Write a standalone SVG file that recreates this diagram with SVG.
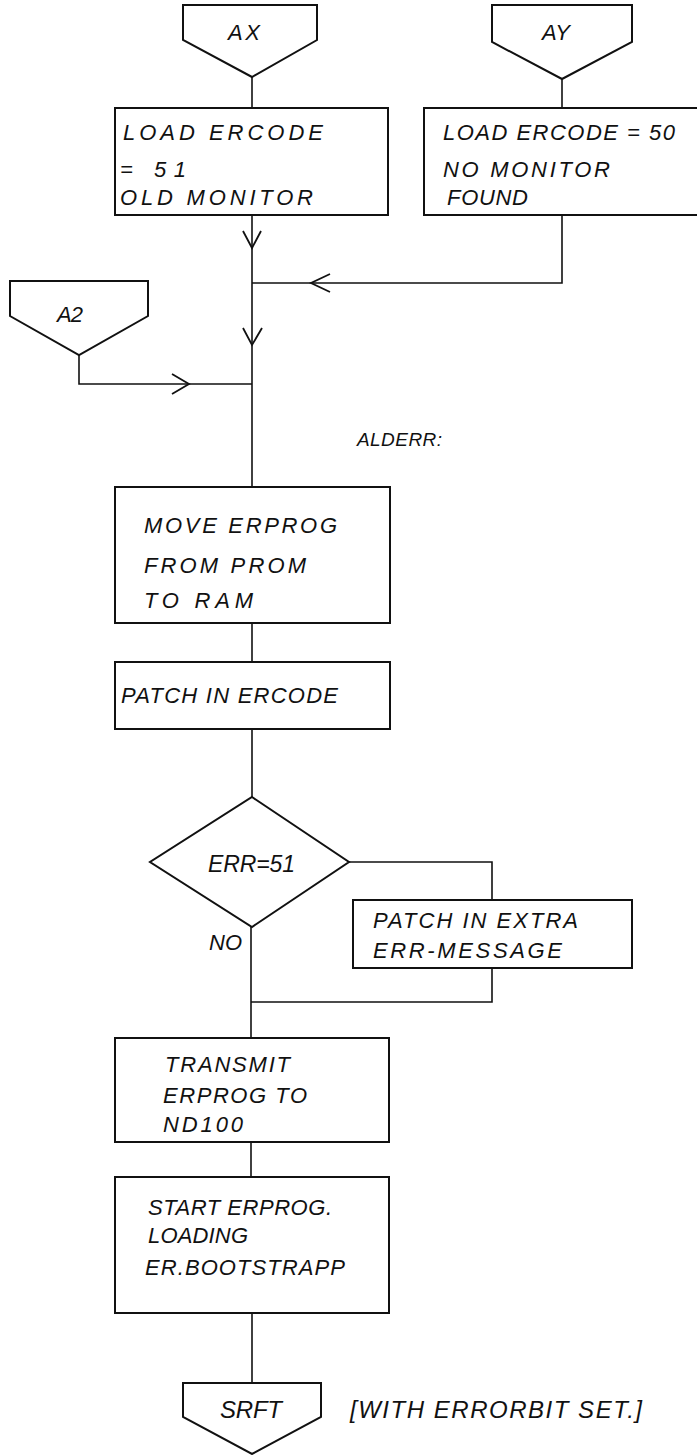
<svg xmlns="http://www.w3.org/2000/svg" width="697" height="1455" viewBox="0 0 697 1455">
<style>
.b{fill:#fff;stroke:#111;stroke-width:2}
.c{fill:none;stroke:#111;stroke-width:1.6}
.a{fill:none;stroke:#111;stroke-width:1.8;stroke-linejoin:miter}
text{font-family:"Liberation Sans","DejaVu Sans",sans-serif;font-style:italic;font-size:22px;fill:#111}
</style>
<rect width="697" height="1455" fill="#fff"/>
<g id="connectors">
<path class="c" d="M252 77V108"/>
<path class="c" d="M562 79V108"/>
<path class="c" d="M252 215V487"/>
<path class="c" d="M562 215V283H252"/>
<path class="c" d="M79 355V384H252"/>
<path class="a" d="M243 231L252 248L261 231"/>
<path class="a" d="M243 328L252 345L262 328"/>
<path class="a" d="M330 274L311 283L330 292"/>
<path class="a" d="M172 374L189 384L172 394"/>
<path class="c" d="M252 623V662"/>
<path class="c" d="M252 729V797"/>
<path class="c" d="M349 862H492V900"/>
<path class="c" d="M492 968V1002H251"/>
<path class="c" d="M251 927V1038"/>
<path class="c" d="M251 1142V1177"/>
<path class="c" d="M252 1313V1383"/>
</g>
<g id="AX"><path class="b" d="M183 5H317V40L252 77L183 40Z"/><text x="228" y="40" textLength="32" lengthAdjust="spacing">AX</text></g>
<g id="AY"><path class="b" d="M492 5H632V42L562 79L492 42Z"/><text x="542" y="40" textLength="28" lengthAdjust="spacing">AY</text></g>
<g id="ercode51"><rect class="b" x="115" y="108" width="273" height="107"/>
<text x="123" y="140" textLength="200" lengthAdjust="spacing">LOAD ERCODE</text>
<text x="120" y="177" textLength="66" lengthAdjust="spacing">= 51</text>
<text x="120" y="205" textLength="193" lengthAdjust="spacing">OLD MONITOR</text></g>
<g id="ercode50"><rect class="b" x="424" y="108" width="276" height="107"/>
<text x="443" y="140" textLength="232" lengthAdjust="spacing">LOAD ERCODE = 50</text>
<text x="443" y="177" textLength="167" lengthAdjust="spacing">NO MONITOR</text>
<text x="447" y="205" textLength="81" lengthAdjust="spacing">FOUND</text></g>
<g id="A2"><path class="b" d="M10 281H148V316L79 355L10 316Z"/><text x="57" y="322" textLength="26" lengthAdjust="spacing">A2</text></g>
<g id="alderr"><text x="357" y="446" textLength="85" lengthAdjust="spacing" style="font-size:19px">ALDERR:</text></g>
<g id="move"><rect class="b" x="115" y="487" width="275" height="136"/>
<text x="144" y="533" textLength="193" lengthAdjust="spacing">MOVE ERPROG</text>
<text x="144" y="573" textLength="162" lengthAdjust="spacing">FROM PROM</text>
<text x="144" y="608" textLength="109" lengthAdjust="spacing">TO RAM</text></g>
<g id="patch"><rect class="b" x="115" y="662" width="275" height="67"/>
<text x="121" y="703" textLength="217" lengthAdjust="spacing">PATCH IN ERCODE</text></g>
<g id="err51"><path class="b" d="M252 797L349 862L252 927L150 862Z"/>
<text x="208" y="872" textLength="87" lengthAdjust="spacing" style="font-size:23px">ERR=51</text>
<text x="209" y="950" textLength="33" lengthAdjust="spacing">NO</text></g>
<g id="extra"><rect class="b" x="353" y="900" width="279" height="68"/>
<text x="373" y="928" textLength="205" lengthAdjust="spacing">PATCH IN EXTRA</text>
<text x="373" y="958" textLength="189" lengthAdjust="spacing">ERR-MESSAGE</text></g>
<g id="transmit"><rect class="b" x="115" y="1038" width="274" height="104"/>
<text x="165" y="1072" textLength="125" lengthAdjust="spacing">TRANSMIT</text>
<text x="163" y="1103" textLength="144" lengthAdjust="spacing">ERPROG TO</text>
<text x="163" y="1132" textLength="80" lengthAdjust="spacing">ND100</text></g>
<g id="start"><rect class="b" x="115" y="1177" width="274" height="136"/>
<text x="148" y="1215" textLength="184" lengthAdjust="spacing">START ERPROG.</text>
<text x="148" y="1243" textLength="100" lengthAdjust="spacing">LOADING</text>
<text x="145" y="1275" textLength="200" lengthAdjust="spacing">ER.BOOTSTRAPP</text></g>
<g id="SRFT"><path class="b" d="M183 1383H321V1417L252 1454L183 1417Z"/>
<text x="220" y="1418" textLength="62" lengthAdjust="spacing" style="font-size:24px">SRFT</text></g>
<g id="note"><text x="350" y="1418" textLength="292" lengthAdjust="spacing" style="font-size:24px">[WITH ERRORBIT SET.]</text></g>
</svg>
